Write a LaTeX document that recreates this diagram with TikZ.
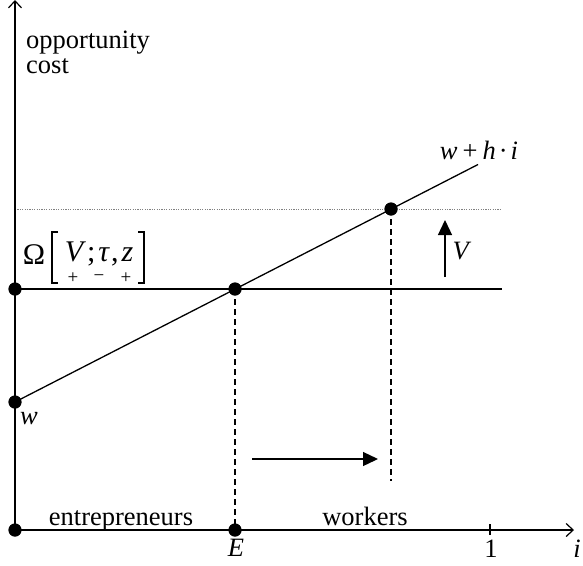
\documentclass[tikz,border=0pt]{standalone}
\usepackage{fontspec}
\setmainfont{Liberation Serif}
\usetikzlibrary{arrows.meta}
\begin{document}
\begin{tikzpicture}[x=1pt,y=-1pt,
  axis/.style={line width=1.4pt,-{Straight Barb[length=7pt,width=13pt,line width=1.2pt]}},
  curve/.style={line width=1.3pt},
  guide/.style={line width=1.2pt,dash pattern=on 6pt off 4pt},
  faint/.style={line width=0.9pt,gray,dash pattern=on 1.2pt off 1.2pt},
  movearrow/.style={line width=1.3pt,-{Triangle[length=15pt,width=14pt]}},
  dot/.style={circle,fill=black,inner sep=0pt,minimum size=13pt},
  lbl/.style={font=\fontsize{26.5}{30}\selectfont,inner sep=0pt},
  big/.style={font=\fontsize{30}{34}\selectfont,inner sep=0pt},
  sgn/.style={font=\fontsize{19}{21}\selectfont,inner sep=0pt}]
\useasboundingbox (0,0) rectangle (583,565);
% points
\coordinate (O) at (15,530);
\coordinate (ytop) at (15,0);
\coordinate (xend) at (574,530);
\node[dot] (d0) at (15,530) {};
\node[dot] (dE) at (235,530) {};
\node[dot] (dOm) at (15,289) {};
\node[dot] (dEs) at (235,289) {};
\node[dot] (dw) at (15,402) {};
\node[dot] (dV) at (391,209) {};
\coordinate (lineEnd) at (478,164.5);
\coordinate (omEnd) at (502,289);
\coordinate (dotEnd) at (500,209);
\coordinate (vdashEnd) at (391,481);
\coordinate (tickA) at (490,524);
\coordinate (tickB) at (490,535);
\coordinate (sA) at (252,459);
\coordinate (sB) at (378,459);
\coordinate (vA) at (445,277);
\coordinate (vB) at (445,220);
% lines
\draw[faint] (dOm.center |- dV.center) -- (dotEnd);
\draw[curve] (dOm.center) -- (omEnd);
\draw[curve] (dw.center) -- (lineEnd);
\draw[guide] (dEs.center) -- (dE.center);
\draw[guide] (dV.center) -- (vdashEnd);
\draw[axis] (O) -- (ytop);
\draw[axis] (O) -- (xend);
\draw[line width=1.2pt] (tickA) -- (tickB);
\draw[movearrow] (sA) -- (sB);
\draw[movearrow] (vA) -- (vB);
% dots on top
\foreach \p in {d0,dE,dOm,dEs,dw,dV} \fill (\p.center) circle (6.5pt);
% brackets
\draw[line width=1.6pt] (58,232) -- (52,232) -- (52,283) -- (58,283);
\draw[line width=1.6pt] (138,232) -- (144,232) -- (144,283) -- (138,283);
% labels
\node[lbl,anchor=west] (t1) at (26,43) {opportunity};
\node[lbl,anchor=west] (t2) at (26,66) {cost};
\node[big] (tOm) at (34,255) {Ω};
\node[big] (tVz) at (99,254) {\textit{V}\kern1pt;\kern3pt\textit{τ}\kern1pt,\kern3pt\textit{z}};
\node[sgn] (s1) at (73,278) {+};
\node[sgn] (s2) at (99,278) {−};
\node[sgn] (s3) at (126,278) {+};
\node[lbl] (tw) at (29,419) {\textit{w}};
\node[lbl] (tfun) at (479,150) {\textit{w}\kern5pt+\kern5pt\textit{h}\kern3pt·\kern3pt\textit{i}};
\node[lbl] (tV) at (462,251) {\textit{V}};
\node[lbl,anchor=base] (tent) at (121,525) {entrepreneurs};
\node[lbl,anchor=base] (twork) at (365,525) {workers};
\node[lbl] (tE) at (236,548) {\textit{E}};
\node[lbl] (tone) at (491,549) {1};
\node[lbl] (ti) at (577,549) {\textit{i}};
\end{tikzpicture}
\end{document}
